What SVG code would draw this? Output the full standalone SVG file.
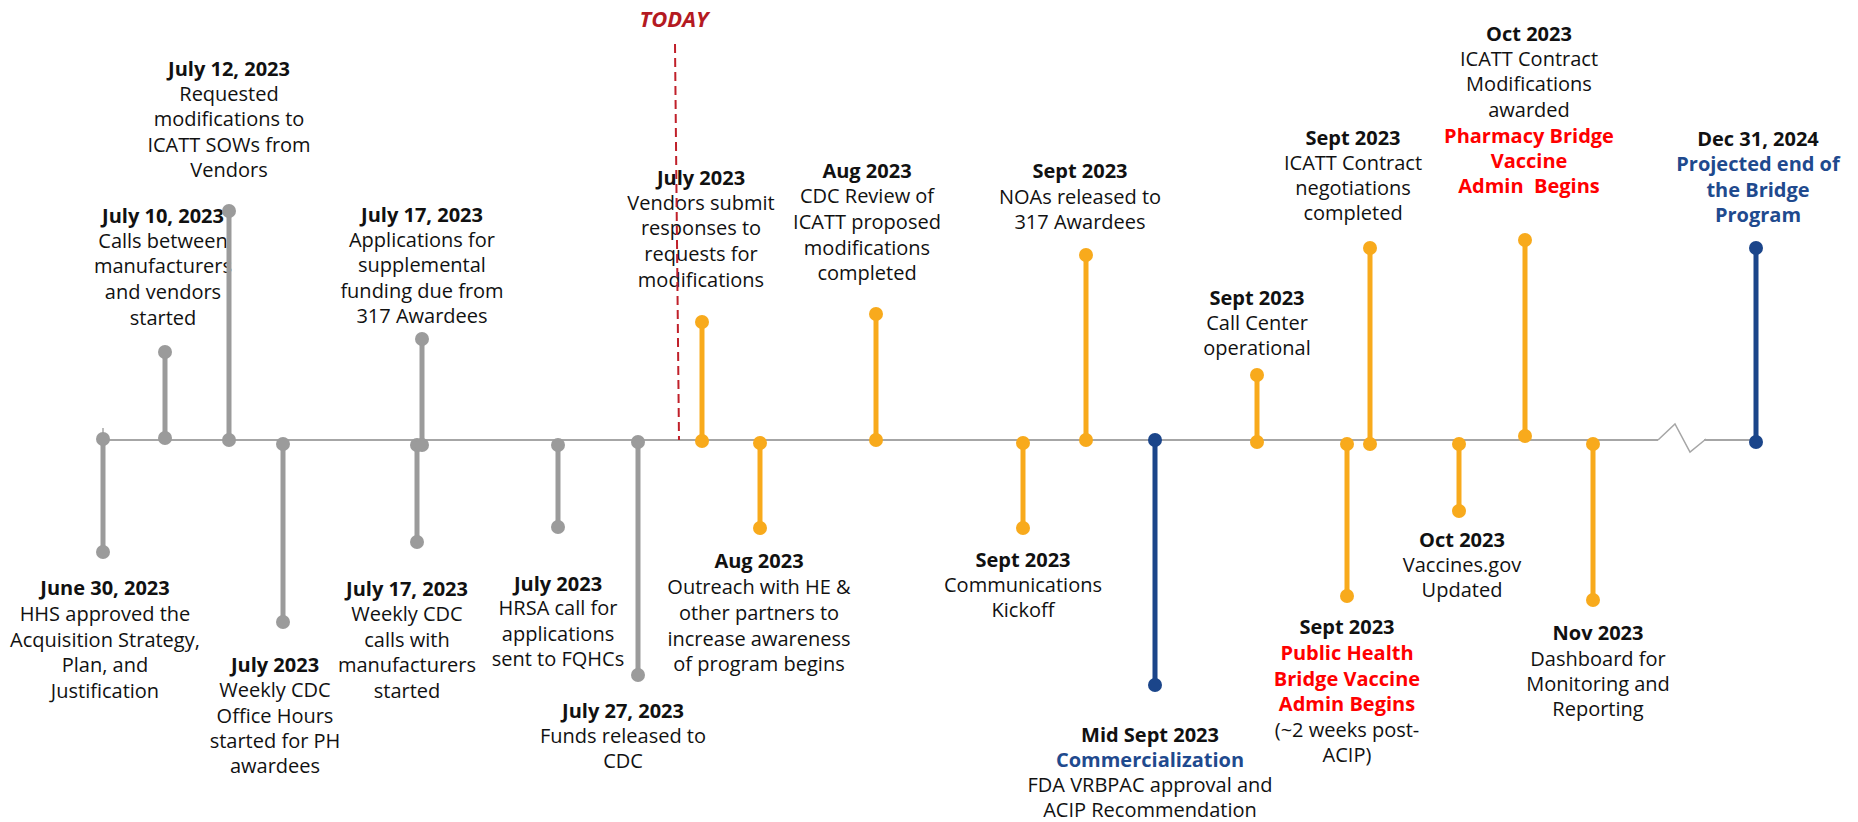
<svg xmlns="http://www.w3.org/2000/svg" width="1858" height="822" viewBox="0 0 1858 822">
<defs>
<style>
text{font-family:"Open Sans","DejaVu Sans",sans-serif;font-size:20px;text-anchor:middle;fill:#111}
.d{font-weight:700}
.r{font-weight:700;fill:#FF0000}
.b{font-weight:700;fill:#1F4A8E}
.g{stroke:#9B9B9B;stroke-width:5;fill:none}
.o{stroke:#F8AA1C;stroke-width:5;fill:none}
.n{stroke:#1B458A;stroke-width:5;fill:none}
.gd{fill:#9B9B9B}
.od{fill:#F8AA1C}
.nd{fill:#1B458A}
</style>
</defs>
<rect width="1858" height="822" fill="#fff"/>
<g id="connectors">
<line x1="103" y1="440" x2="1658" y2="440" stroke="#A6A6A6" stroke-width="2"/>
<line x1="103" y1="428" x2="103" y2="440" stroke="#A6A6A6" stroke-width="1.5"/>
<polyline points="1658,440 1675,424 1690,452 1706,439" fill="none" stroke="#A6A6A6" stroke-width="1.5"/>
<line x1="1704" y1="440" x2="1756" y2="440" stroke="#A6A6A6" stroke-width="2"/>
</g>
<g id="n-jun30">
<text><tspan class="d" x="105" y="595">June 30, 2023</tspan><tspan x="105" y="621">HHS approved the</tspan><tspan x="105" y="647">Acquisition Strategy,</tspan><tspan x="105" y="672">Plan, and</tspan><tspan x="105" y="698">Justification</tspan></text>
<line class="g" x1="103" y1="439" x2="103" y2="552"/><circle class="gd" cx="103" cy="439" r="7"/><circle class="gd" cx="103" cy="552" r="7"/>
</g>
<g id="n-jul10">
<text><tspan class="d" x="163" y="223">July 10, 2023</tspan><tspan x="163" y="248">Calls between</tspan><tspan x="163" y="273">manufacturers</tspan><tspan x="163" y="299">and vendors</tspan><tspan x="163" y="325">started</tspan></text>
<line class="g" x1="165" y1="438" x2="165" y2="352"/><circle class="gd" cx="165" cy="438" r="7"/><circle class="gd" cx="165" cy="352" r="7"/>
</g>
<g id="n-jul12">
<text><tspan class="d" x="229" y="76">July 12, 2023</tspan><tspan x="229" y="101">Requested</tspan><tspan x="229" y="126">modifications to</tspan><tspan x="229" y="152">ICATT SOWs from</tspan><tspan x="229" y="177">Vendors</tspan></text>
<line class="g" x1="229" y1="440" x2="229" y2="211"/><circle class="gd" cx="229" cy="440" r="7"/><circle class="gd" cx="229" cy="211" r="7"/>
</g>
<g id="n-jul-office">
<text><tspan class="d" x="275" y="672">July 2023</tspan><tspan x="275" y="697">Weekly CDC</tspan><tspan x="275" y="723">Office Hours</tspan><tspan x="275" y="748">started for PH</tspan><tspan x="275" y="773">awardees</tspan></text>
<line class="g" x1="283" y1="444" x2="283" y2="622"/><circle class="gd" cx="283" cy="444" r="7"/><circle class="gd" cx="283" cy="622" r="7"/>
</g>
<g id="n-jul17-weekly">
<text><tspan class="d" x="407" y="596">July 17, 2023</tspan><tspan x="407" y="621">Weekly CDC</tspan><tspan x="407" y="647">calls with</tspan><tspan x="407" y="672">manufacturers</tspan><tspan x="407" y="698">started</tspan></text>
<line class="g" x1="417" y1="445" x2="417" y2="542"/><circle class="gd" cx="417" cy="445" r="7"/><circle class="gd" cx="417" cy="542" r="7"/>
</g>
<g id="n-jul17-apps">
<text><tspan class="d" x="422" y="222">July 17, 2023</tspan><tspan x="422" y="247">Applications for</tspan><tspan x="422" y="272">supplemental</tspan><tspan x="422" y="298">funding due from</tspan><tspan x="422" y="323">317 Awardees</tspan></text>
<line class="g" x1="422" y1="445" x2="422" y2="339"/><circle class="gd" cx="422" cy="445" r="7"/><circle class="gd" cx="422" cy="339" r="7"/>
</g>
<g id="n-hrsa">
<text><tspan class="d" x="558" y="591">July 2023</tspan><tspan x="558" y="615">HRSA call for</tspan><tspan x="558" y="641">applications</tspan><tspan x="558" y="666">sent to FQHCs</tspan></text>
<line class="g" x1="558" y1="445" x2="558" y2="527"/><circle class="gd" cx="558" cy="445" r="7"/><circle class="gd" cx="558" cy="527" r="7"/>
</g>
<g id="n-jul27">
<text><tspan class="d" x="623" y="718">July 27, 2023</tspan><tspan x="623" y="743">Funds released to</tspan><tspan x="623" y="768">CDC</tspan></text>
<line class="g" x1="638" y1="442" x2="638" y2="675"/><circle class="gd" cx="638" cy="442" r="7"/><circle class="gd" cx="638" cy="675" r="7"/>
</g>
<g id="n-vendors">
<text><tspan class="d" x="701" y="185">July 2023</tspan><tspan x="701" y="210">Vendors submit</tspan><tspan x="701" y="235">responses to</tspan><tspan x="701" y="261">requests for</tspan><tspan x="701" y="287">modifications</tspan></text>
<line class="o" x1="702" y1="441" x2="702" y2="322"/><circle class="od" cx="702" cy="441" r="7"/><circle class="od" cx="702" cy="322" r="7"/>
</g>
<g id="n-aug-outreach">
<text><tspan class="d" x="759" y="568">Aug 2023</tspan><tspan x="759" y="594">Outreach with HE &amp;</tspan><tspan x="759" y="620">other partners to</tspan><tspan x="759" y="646">increase awareness</tspan><tspan x="759" y="671">of program begins</tspan></text>
<line class="o" x1="760" y1="443" x2="760" y2="528"/><circle class="od" cx="760" cy="443" r="7"/><circle class="od" cx="760" cy="528" r="7"/>
</g>
<g id="n-aug-review">
<text><tspan class="d" x="867" y="178">Aug 2023</tspan><tspan x="867" y="203">CDC Review of</tspan><tspan x="867" y="229">ICATT proposed</tspan><tspan x="867" y="255">modifications</tspan><tspan x="867" y="280">completed</tspan></text>
<line class="o" x1="876" y1="440" x2="876" y2="314"/><circle class="od" cx="876" cy="440" r="7"/><circle class="od" cx="876" cy="314" r="7"/>
</g>
<g id="n-sept-comms">
<text><tspan class="d" x="1023" y="567">Sept 2023</tspan><tspan x="1023" y="592">Communications</tspan><tspan x="1023" y="617">Kickoff</tspan></text>
<line class="o" x1="1023" y1="443" x2="1023" y2="528"/><circle class="od" cx="1023" cy="443" r="7"/><circle class="od" cx="1023" cy="528" r="7"/>
</g>
<g id="n-sept-noas">
<text><tspan class="d" x="1080" y="178">Sept 2023</tspan><tspan x="1080" y="204">NOAs released to</tspan><tspan x="1080" y="229">317 Awardees</tspan></text>
<line class="o" x1="1086" y1="440" x2="1086" y2="255"/><circle class="od" cx="1086" cy="440" r="7"/><circle class="od" cx="1086" cy="255" r="7"/>
</g>
<g id="n-midsept">
<text><tspan class="d" x="1150" y="742">Mid Sept 2023</tspan><tspan class="b" x="1150" y="767">Commercialization</tspan><tspan x="1150" y="792">FDA VRBPAC approval and</tspan><tspan x="1150" y="817">ACIP Recommendation</tspan></text>
<line class="n" x1="1155" y1="440" x2="1155" y2="685"/><circle class="nd" cx="1155" cy="440" r="7"/><circle class="nd" cx="1155" cy="685" r="7"/>
</g>
<g id="n-sept-callcenter">
<text><tspan class="d" x="1257" y="305">Sept 2023</tspan><tspan x="1257" y="330">Call Center</tspan><tspan x="1257" y="355">operational</tspan></text>
<line class="o" x1="1257" y1="442" x2="1257" y2="375"/><circle class="od" cx="1257" cy="442" r="7"/><circle class="od" cx="1257" cy="375" r="7"/>
</g>
<g id="n-sept-ph">
<text><tspan class="d" x="1347" y="634">Sept 2023</tspan><tspan class="r" x="1347" y="660">Public Health</tspan><tspan class="r" x="1347" y="686">Bridge Vaccine</tspan><tspan class="r" x="1347" y="711">Admin Begins</tspan><tspan x="1347" y="737">(~2 weeks post-</tspan><tspan x="1347" y="762">ACIP)</tspan></text>
<line class="o" x1="1347" y1="444" x2="1347" y2="596"/><circle class="od" cx="1347" cy="444" r="7"/><circle class="od" cx="1347" cy="596" r="7"/>
</g>
<g id="n-sept-icatt">
<text><tspan class="d" x="1353" y="145">Sept 2023</tspan><tspan x="1353" y="170">ICATT Contract</tspan><tspan x="1353" y="195">negotiations</tspan><tspan x="1353" y="220">completed</tspan></text>
<line class="o" x1="1370" y1="444" x2="1370" y2="248"/><circle class="od" cx="1370" cy="444" r="7"/><circle class="od" cx="1370" cy="248" r="7"/>
</g>
<g id="n-oct-vaccines">
<text><tspan class="d" x="1462" y="547">Oct 2023</tspan><tspan x="1462" y="572">Vaccines.gov</tspan><tspan x="1462" y="597">Updated</tspan></text>
<line class="o" x1="1459" y1="444" x2="1459" y2="511"/><circle class="od" cx="1459" cy="444" r="7"/><circle class="od" cx="1459" cy="511" r="7"/>
</g>
<g id="n-oct-icatt">
<text><tspan class="d" x="1529" y="41">Oct 2023</tspan><tspan x="1529" y="66">ICATT Contract</tspan><tspan x="1529" y="91">Modifications</tspan><tspan x="1529" y="117">awarded</tspan><tspan class="r" x="1529" y="143">Pharmacy Bridge</tspan><tspan class="r" x="1529" y="168">Vaccine</tspan><tspan class="r" x="1529" y="193">Admin&#160; Begins</tspan></text>
<line class="o" x1="1525" y1="436" x2="1525" y2="240"/><circle class="od" cx="1525" cy="436" r="7"/><circle class="od" cx="1525" cy="240" r="7"/>
</g>
<g id="n-nov">
<text><tspan class="d" x="1598" y="640">Nov 2023</tspan><tspan x="1598" y="666">Dashboard for</tspan><tspan x="1598" y="691">Monitoring and</tspan><tspan x="1598" y="716">Reporting</tspan></text>
<line class="o" x1="1593" y1="444" x2="1593" y2="600"/><circle class="od" cx="1593" cy="444" r="7"/><circle class="od" cx="1593" cy="600" r="7"/>
</g>
<g id="n-dec31">
<text><tspan class="d" x="1758" y="146">Dec 31, 2024</tspan><tspan class="b" x="1758" y="171">Projected end of</tspan><tspan class="b" x="1758" y="197">the Bridge</tspan><tspan class="b" x="1758" y="222">Program</tspan></text>
<line class="n" x1="1756" y1="442" x2="1756" y2="248"/><circle class="nd" cx="1756" cy="442" r="7"/><circle class="nd" cx="1756" cy="248" r="7"/>
</g>
<g id="today">
<text x="674" y="27" style="font-weight:700;font-style:italic;font-size:22px;fill:#B41A22">TODAY</text>
<line x1="675" y1="44" x2="679" y2="440" stroke="#C0202A" stroke-width="2" stroke-dasharray="9 5"/>
</g>
</svg>
